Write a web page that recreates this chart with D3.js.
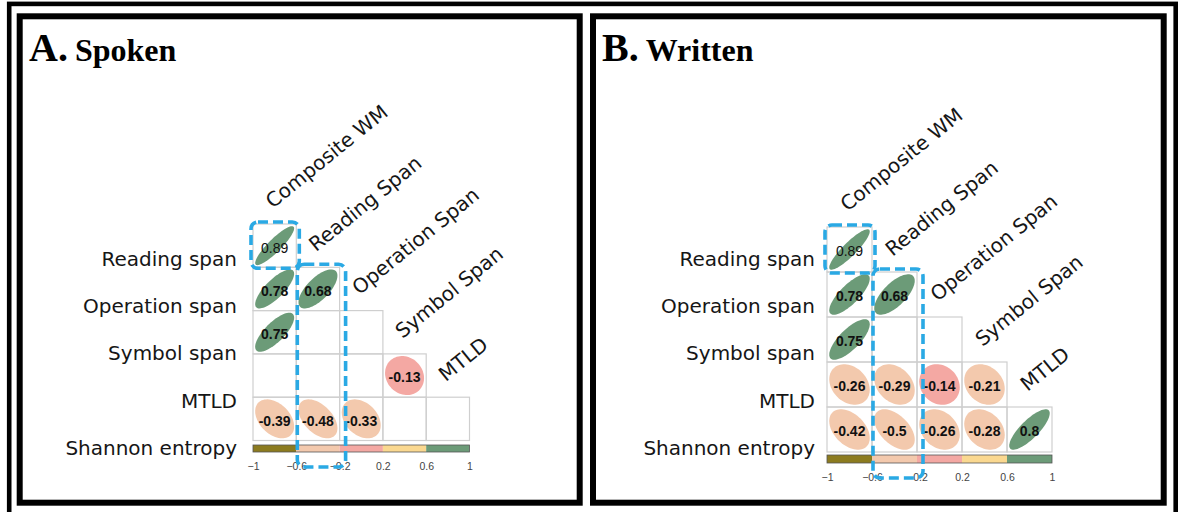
<!DOCTYPE html>
<html>
<head>
<meta charset="utf-8">
<script src="https://cdn.jsdelivr.net/npm/d3@7"></script>
<style>
  body { margin: 0; background: #fff; }
  svg { display: block; }
</style>
</head>
<body>
<svg id="chart"></svg>
<script>
const rowLabels = ['Reading span', 'Operation span', 'Symbol span', 'MTLD', 'Shannon entropy']
const colLabels = ['Composite WM', 'Reading Span', 'Operation Span', 'Symbol Span', 'MTLD']

// lower triangle, null = blank (not significant)
const spokenValues = [
  [0.89],
  [0.78, 0.68],
  [0.75, null, null],
  [null, null, null, -0.13],
  [-0.39, -0.48, -0.33, null, null]
]
const writtenValues = [
  [0.89],
  [0.78, 0.68],
  [0.75, null, null],
  [-0.26, -0.29, -0.14, -0.21],
  [-0.42, -0.5, -0.26, -0.28, 0.8]
]

const colorBreaks = [-0.6, -0.2, 0.2, 0.6]
const colorBands = ['#8c7b1f', '#f3c9ad', '#f4a8a3', '#fad890', '#6c9b78']
const barTicks = [-1, -0.6, -0.2, 0.2, 0.6, 1]

const W = 1178
const H = 512

const svg = d3.select('#chart')
  .attr('width', W)
  .attr('height', H)

const color = d3.scaleThreshold().domain(colorBreaks).range(colorBands)

// outer frame
svg.append('rect')
  .attr('x', 9.2).attr('y', 3.9)
  .attr('width', 1166.5).attr('height', 540)
  .attr('fill', 'none')
  .attr('stroke', '#000')
  .attr('stroke-width', 4.6)

// corrplot-style ellipse outline for correlation r
function ellipsePath (r, s) {
  const d = Math.acos(r)
  const pts = d3.range(0, 73).map(i => {
    const t = i / 72 * 2 * Math.PI
    return [Math.cos(t + d / 2) * s, -Math.cos(t - d / 2) * s]
  })
  return d3.line()(pts) + 'Z'
}

function drawPanel (cfg) {
  const g = svg.append('g')

  g.append('rect')
    .attr('x', cfg.frame[0]).attr('y', cfg.frame[1])
    .attr('width', cfg.frame[2]).attr('height', cfg.frame[3])
    .attr('fill', 'none')
    .attr('stroke', '#000')
    .attr('stroke-width', 6)

  // title
  const title = g.append('text')
    .attr('x', cfg.titleX)
    .attr('y', 61)
    .attr('font-family', '"Liberation Serif", "Times New Roman", serif')
    .attr('font-weight', 'bold')
    .attr('fill', '#000')
  title.append('tspan').attr('font-size', 40).text(cfg.letter)
  title.append('tspan').attr('font-size', 32).attr('dx', 7).text(cfg.title)

  const n = rowLabels.length
  const x = d3.scaleBand().domain(colLabels).range([cfg.left, cfg.left + n * cfg.cell])
  const y = d3.scaleBand().domain(rowLabels).range([cfg.top, cfg.top + n * cfg.cell])
  const labelY = d3.scalePoint().domain(rowLabels).range([259, 447.5])

  // grid
  cfg.values.forEach((row, i) => {
    row.forEach((v, j) => {
      g.append('rect')
        .attr('x', x(colLabels[j]))
        .attr('y', y(rowLabels[i]))
        .attr('width', x.bandwidth())
        .attr('height', y.bandwidth())
        .attr('fill', 'none')
        .attr('stroke', '#cfcfcf')
        .attr('stroke-width', 1.2)
    })
  })

  // ellipses + values
  const s = cfg.cell * 0.45
  cfg.values.forEach((row, i) => {
    row.forEach((v, j) => {
      if (v === null) return
      const cx = x(colLabels[j]) + x.bandwidth() / 2
      const cy = y(rowLabels[i]) + y.bandwidth() / 2
      g.append('path')
        .attr('transform', `translate(${cx},${cy})`)
        .attr('d', ellipsePath(v, s))
        .attr('fill', color(v))
      g.append('text')
        .attr('x', cx)
        .attr('y', cy + 2)
        .attr('dy', '0.35em')
        .attr('text-anchor', 'middle')
        .attr('font-family', '"Liberation Sans", Arial, sans-serif')
        .attr('font-size', 14)
        .attr('font-weight', i === 0 ? 'normal' : 'bold')
        .attr('fill', '#111')
        .text(v)
    })
  })

  // row labels
  g.selectAll('text.rowlab')
    .data(rowLabels)
    .join('text')
    .attr('class', 'rowlab')
    .attr('x', cfg.labelRight)
    .attr('y', d => labelY(d))
    .attr('dy', '0.36em')
    .attr('text-anchor', 'end')
    .attr('font-family', '"DejaVu Sans", sans-serif')
    .attr('font-size', 20)
    .attr('fill', '#161616')
    .text(d => d)

  // column labels along the diagonal
  g.selectAll('text.collab')
    .data(colLabels)
    .join('text')
    .attr('class', 'collab')
    .attr('transform', (d, j) => {
      const px = x(d) + x.bandwidth() / 2 - 2
      const py = y(rowLabels[j]) - 15
      return `translate(${px},${py}) rotate(-39)`
    })
    .attr('font-family', '"DejaVu Sans", sans-serif')
    .attr('font-size', 20)
    .attr('fill', '#161616')
    .text(d => d)

  // colour bar
  const bx = d3.scaleLinear().domain([-1, 1]).range([cfg.left, cfg.left + n * cfg.cell])
  const segs = d3.pairs(barTicks)
  g.selectAll('rect.seg')
    .data(segs)
    .join('rect')
    .attr('class', 'seg')
    .attr('x', d => bx(d[0]))
    .attr('y', cfg.barY)
    .attr('width', d => bx(d[1]) - bx(d[0]))
    .attr('height', cfg.barH)
    .attr('fill', d => color((d[0] + d[1]) / 2))
  g.append('rect')
    .attr('x', bx(-1)).attr('y', cfg.barY)
    .attr('width', bx(1) - bx(-1)).attr('height', cfg.barH)
    .attr('fill', 'none')
    .attr('stroke', '#555')
    .attr('stroke-width', 0.8)

  const axis = d3.axisBottom(bx).tickValues(barTicks).tickSize(0).tickFormat(d3.format('~g'))
  const ax = g.append('g')
    .attr('transform', `translate(0,${cfg.tickY})`)
    .call(axis)
  ax.select('.domain').remove()
  ax.selectAll('text')
    .attr('font-family', '"Liberation Sans", Arial, sans-serif')
    .attr('font-size', 10.5)
    .attr('fill', '#444')

  // blue dashed highlight boxes
  const blue = '#2aa9e4'
  const c0 = x(colLabels[0])
  const c1 = x(colLabels[1])
  const r0 = y(rowLabels[0])
  const r1 = y(rowLabels[1])
  const boxes = [
    [c0 - 2, r0 - 2, c0 + x.bandwidth() + 3, r0 + y.bandwidth() + 1],
    [c1 + 1, r1 - 3, c1 + x.bandwidth() + 6, cfg.tickY + 7]
  ]
  g.selectAll('rect.hl')
    .data(boxes)
    .join('rect')
    .attr('class', 'hl')
    .attr('x', d => d[0])
    .attr('y', d => d[1])
    .attr('width', d => d[2] - d[0])
    .attr('height', d => d[3] - d[1])
    .attr('rx', 7)
    .attr('fill', 'none')
    .attr('stroke', blue)
    .attr('stroke-width', 3.6)
    .attr('stroke-dasharray', '10,5')
}

drawPanel({
  letter: 'A.',
  title: 'Spoken',
  titleX: 29,
  frame: [19.7, 16.3, 560, 486.4],
  values: spokenValues,
  left: 253,
  top: 224,
  cell: 43.3,
  labelRight: 237,
  barY: 445,
  barH: 7,
  tickY: 460
})

drawPanel({
  letter: 'B.',
  title: 'Written',
  titleX: 602,
  frame: [593, 16.3, 570.7, 486.4],
  values: writtenValues,
  left: 827,
  top: 227,
  cell: 45,
  labelRight: 815,
  barY: 455,
  barH: 8,
  tickY: 471
})
</script>
</body>
</html>
